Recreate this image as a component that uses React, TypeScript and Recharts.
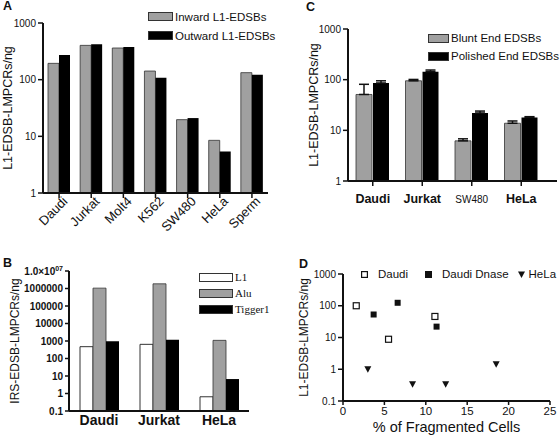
import React from 'react'
import {
  BarChart, Bar, XAxis, YAxis, Legend, ErrorBar, ScatterChart, Scatter
} from 'recharts'

const FONT = '"Liberation Sans", Arial, Helvetica, sans-serif'
const SERIF = '"Liberation Serif", "Times New Roman", serif'
const INK = '#111'
const GRAY = '#a0a0a0'

// Panel A: inward / outward L1-EDSBs per cell line
const cellLinesA = ['Daudi', 'Jurkat', 'Molt4', 'K562', 'SW480', 'HeLa', 'Sperm']
const inwardA = [194, 403, 362, 142, 19.7, 8.5, 133]
const outwardA = [272, 421, 377, 108, 21, 5.4, 122]
const ticksA = [1, 10, 100, 1000]

// Panel B: IRS-EDSBs
const cellLinesB = ['Daudi', 'Jurkat', 'HeLa']
const l1B = [474, 645, 0.65]
const aluB = [1050000, 1850000, 1090]
const tiggerB = [960, 1190, 6.7]
const ticksB = [0.1, 1, 10, 100, 1000, 10000, 100000, 1000000, 10000000]

// Panel C: blunt vs polished ends (upper error only)
const cellLinesC = ['Daudi', 'Jurkat', 'SW480', 'HeLa']
const bluntC = [51, 95, 6.2, 13.8]
const bluntErrC = [30, 6, 0.6, 1.5]
const polishedC = [86, 144, 22, 18]
const polishedErrC = [9, 11, 2, 0.6]
const ticksC = [1, 10, 100, 1000]

// Panel D: % fragmented cells vs EDSBs
const daudiX = [1.6, 5.5, 11.1]
const daudiY = [100, 8.8, 46]
const dnaseX = [3.7, 6.6, 11.3]
const dnaseY = [53, 124, 22]
const helaX = [3.0, 8.4, 12.4, 18.5]
const helaY = [1.0, 0.34, 0.34, 1.44]
const ticksDx = [0, 5, 10, 15, 20, 25]
const ticksDy = [0.1, 1, 10, 100, 1000]

const dataA = cellLinesA.map((name, i) => ({ name, inward: inwardA[i], outward: outwardA[i] }))
const dataB = cellLinesB.map((name, i) => ({ name, l1: l1B[i], alu: aluB[i], tigger: tiggerB[i] }))
const dataC = cellLinesC.map((name, i) => ({
  name,
  blunt: bluntC[i],
  bluntErr: [0, bluntErrC[i]],
  polished: polishedC[i],
  polishedErr: [0, polishedErrC[i]],
}))
const toPts = (xs: number[], ys: number[]) => xs.map((x, i) => ({ x, y: ys[i] }))
const daudiD = toPts(daudiX, daudiY)
const dnaseD = toPts(dnaseX, dnaseY)
const helaD = toPts(helaX, helaY)

const axisStroke = { stroke: INK, strokeWidth: 2 }
const tickStroke = { stroke: INK, strokeWidth: 1.5 }

// vertical + centered legend so it takes no room from the plot
const noReserve = { layout: 'vertical' as const, align: 'center' as const, verticalAlign: 'middle' as const }

function BoxLegend({ payload, order, boxW, boxH, font, size, gap }: any) {
  const items = [...(payload || [])].sort((a: any, b: any) => order.indexOf(a.value) - order.indexOf(b.value))
  return (
    <div style={{ fontFamily: font, fontSize: size, color: INK }}>
      {items.map((e: any) => (
        <div key={e.value} style={{ display: 'flex', alignItems: 'center', height: gap }}>
          <span style={{
            display: 'inline-block', width: boxW, height: boxH, background: e.color,
            border: '1px solid #333', marginRight: 2,
          }} />
          <span>{e.value}</span>
        </div>
      ))}
    </div>
  )
}

function AngledTick({ x, y, payload }: any) {
  return (
    <g transform={`translate(${x},${y})`}>
      <text x={5} y={8} transform="rotate(-45)" textAnchor="end" fontSize={13} fill={INK} fontFamily={FONT}>
        {payload.value}
      </text>
    </g>
  )
}

function PowerTick({ x, y, payload }: any) {
  const v = payload.value
  return (
    <text x={x} y={y} dy={3.5} textAnchor="end" fontSize={10} fontWeight="bold" fill={INK} fontFamily={FONT}>
      {v === 10000000 ? <>1.0×10<tspan dy={-4} fontSize={7}>07</tspan></> : String(v)}
    </text>
  )
}

function BoldTickB({ x, y, payload }: any) {
  return (
    <text x={x} y={y} dy={12} textAnchor="middle" fontSize={14} fontWeight="bold" fill={INK} fontFamily={FONT}>
      {payload.value}
    </text>
  )
}

function TickC({ x, y, payload }: any) {
  const plain = payload.value === 'SW480'
  return (
    <text x={x} y={y} dy={15} textAnchor="middle" fontSize={plain ? 10 : 12.5}
      fontWeight={plain ? 'normal' : 'bold'} fill={INK} fontFamily={FONT}>
      {payload.value}
    </text>
  )
}

const OpenSquare = (p: any) => (
  <rect x={p.cx - 3} y={p.cy - 3} width={6} height={6} fill="#fff" stroke={INK} strokeWidth={1.2} />
)
const FilledSquare = (p: any) => (
  <rect x={p.cx - 3} y={p.cy - 3} width={6} height={6} fill={INK} />
)
const DownTriangle = (p: any) => (
  <path d={`M${p.cx - 3.5},${p.cy - 3} L${p.cx + 3.5},${p.cy - 3} L${p.cx},${p.cy + 3.5} Z`} fill={INK} />
)

const markerIcons: Record<string, React.ReactNode> = {
  'Daudi': <svg width={7} height={7}><rect x={0.6} y={0.6} width={5.8} height={5.8} fill="#fff" stroke={INK} strokeWidth={1.2} /></svg>,
  'Daudi Dnase': <svg width={7} height={7}><rect x={0} y={0} width={7} height={7} fill={INK} /></svg>,
  'HeLa': <svg width={7} height={7}><path d="M0,0.5 L7,0.5 L3.5,7 Z" fill={INK} /></svg>,
}

function MarkerLegend({ payload }: any) {
  const gaps: Record<string, number> = { 'Daudi': 17, 'Daudi Dnase': 9, 'HeLa': 0 }
  const textGap: Record<string, number> = { 'Daudi': 10, 'Daudi Dnase': 10, 'HeLa': 4 }
  return (
    <div style={{ display: 'flex', alignItems: 'center', fontFamily: FONT, fontSize: 11.5, color: INK }}>
      {(payload || []).map((e: any) => (
        <div key={e.value} style={{ display: 'flex', alignItems: 'center', marginRight: gaps[e.value] }}>
          <span style={{ marginRight: textGap[e.value], display: 'flex' }}>{markerIcons[e.value]}</span>
          <span>{e.value}</span>
        </div>
      ))}
    </div>
  )
}

const letter = (t: string, left: number, top: number) => (
  <div style={{
    position: 'absolute', left, top, fontFamily: FONT, fontWeight: 'bold', fontSize: 12.5,
    lineHeight: 1, color: INK,
  }}>{t}</div>
)

const yLabel = (value: string, dx: number, size = 12) => ({
  value, angle: -90, position: 'center' as const, dx,
  style: { fontFamily: FONT, fontSize: size, fill: INK, textAnchor: 'middle' },
})

export default function App() {
  const tickFont = { fontSize: 10, fill: INK, fontFamily: FONT }
  return (
    <div style={{ position: 'absolute', left: 0, top: 0, width: 560, height: 436, background: '#fff', overflow: 'hidden' }}>
      {letter('A', 3, 0)}
      {letter('C', 306, 1)}
      {letter('B', 3, 257)}
      {letter('D', 299, 258)}

      {/* A */}
      <div style={{ position: 'absolute', left: 0, top: 0 }}>
        <BarChart width={280} height={250} data={dataA} margin={{ top: 23, right: 12, left: 0, bottom: 0 }}
          barGap={0} barSize={11}>
          <XAxis dataKey="name" height={57} axisLine={axisStroke} tickLine={tickStroke} tickSize={5}
            tick={<AngledTick />} interval={0} />
          <YAxis type="number" scale="log" domain={[1, 1000]} ticks={ticksA} allowDataOverflow interval={0}
            width={43} axisLine={axisStroke} tickLine={tickStroke} tickSize={5} tick={tickFont}
            label={yLabel('L1-EDSB-LMPCRs/ng', -13.5, 12.5)} />
          <Legend {...noReserve} wrapperStyle={{ left: 148, top: 7, width: 130 }}
            content={<BoxLegend order={['Inward L1-EDSBs', 'Outward L1-EDSBs']} boxW={23} boxH={7} font={FONT} size={11.5} gap={19} />} />
          <Bar dataKey="inward" name="Inward L1-EDSBs" fill={GRAY} stroke="#333" strokeWidth={0.8} isAnimationActive={false} />
          <Bar dataKey="outward" name="Outward L1-EDSBs" fill="#000" isAnimationActive={false} />
        </BarChart>
      </div>

      {/* C */}
      <div style={{ position: 'absolute', left: 280, top: 0 }}>
        <BarChart width={280} height={250} data={dataC} margin={{ top: 29, right: 3, left: 0, bottom: 0 }}
          barGap={1} barSize={16}>
          <XAxis dataKey="name" height={69} axisLine={axisStroke} tickLine={tickStroke} tickSize={5}
            padding={{ left: 0, right: 11 }} tick={<TickC />} interval={0} />
          <YAxis type="number" scale="log" domain={[1, 1000]} ticks={ticksC} allowDataOverflow interval={0}
            width={68} axisLine={axisStroke} tickLine={tickStroke} tickSize={5} tick={tickFont}
            label={yLabel('L1-EDSB-LMPCRs/ng', 0, 12.5)} />
          <Legend {...noReserve} wrapperStyle={{ left: 148, top: 29, width: 132 }}
            content={<BoxLegend order={['Blunt End EDSBs', 'Polished End EDSBs']} boxW={19} boxH={7} font={FONT} size={11.5} gap={18} />} />
          <Bar dataKey="blunt" name="Blunt End EDSBs" fill={GRAY} stroke="#333" strokeWidth={0.8} isAnimationActive={false}>
            <ErrorBar dataKey="bluntErr" width={5} stroke={INK} strokeWidth={1.5} />
          </Bar>
          <Bar dataKey="polished" name="Polished End EDSBs" fill="#000" isAnimationActive={false}>
            <ErrorBar dataKey="polishedErr" width={5} stroke={INK} strokeWidth={1.5} />
          </Bar>
        </BarChart>
      </div>

      {/* B */}
      <div style={{ position: 'absolute', left: 0, top: 255 }}>
        <BarChart width={280} height={181} data={dataB} margin={{ top: 16, right: 31, left: 0, bottom: 0 }}
          barGap={0} barSize={13}>
          <XAxis dataKey="name" height={25} axisLine={axisStroke} tickLine={false} tickSize={0} tickMargin={2}
            tick={<BoldTickB />} interval={0} />
          <YAxis type="number" scale="log" domain={[0.1, 10000000]} ticks={ticksB} allowDataOverflow interval={0}
            width={69} axisLine={axisStroke} tickLine={tickStroke} tickSize={4} tick={<PowerTick />}
            label={yLabel('IRS-EDSB-LMPCRs/ng', -19.5, 12)} />
          <Legend {...noReserve} wrapperStyle={{ left: 199, top: 14, width: 80 }}
            content={<BoxLegend order={['L1', 'Alu', 'Tigger1']} boxW={32} boxH={7} font={SERIF} size={11} gap={16} />} />
          <Bar dataKey="l1" name="L1" fill="#fff" stroke="#333" strokeWidth={1} isAnimationActive={false} />
          <Bar dataKey="alu" name="Alu" fill={GRAY} stroke="#333" strokeWidth={0.8} isAnimationActive={false} />
          <Bar dataKey="tigger" name="Tigger1" fill="#000" isAnimationActive={false} />
        </BarChart>
      </div>

      {/* D */}
      <div style={{ position: 'absolute', left: 280, top: 255 }}>
        <ScatterChart width={280} height={181} margin={{ top: 19, right: 10, left: 0, bottom: 0 }}>
          <XAxis type="number" dataKey="x" domain={[0, 25]} ticks={ticksDx} interval={0} height={35}
            axisLine={axisStroke} tickLine={tickStroke} tickSize={4}
            tick={{ fontSize: 11.5, fill: INK, fontFamily: FONT }}
            label={{ value: '% of Fragmented Cells', position: 'insideBottom', offset: 4,
              style: { fontFamily: FONT, fontSize: 14.5, fill: INK } }} />
          <YAxis type="number" dataKey="y" scale="log" domain={[0.1, 1000]} ticks={ticksDy} allowDataOverflow
            interval={0} width={63} axisLine={axisStroke} tickLine={tickStroke} tickSize={5} tick={tickFont}
            label={yLabel('L1-EDSB-LMPCRs/ng', -7.5, 12)} />
          <Legend {...noReserve} wrapperStyle={{ left: 81, top: 13, width: 199 }} content={<MarkerLegend />} />
          <Scatter name="Daudi" data={daudiD} fill="#fff" shape={OpenSquare} isAnimationActive={false} />
          <Scatter name="Daudi Dnase" data={dnaseD} fill={INK} shape={FilledSquare} isAnimationActive={false} />
          <Scatter name="HeLa" data={helaD} fill={INK} shape={DownTriangle} isAnimationActive={false} />
        </ScatterChart>
      </div>
    </div>
  )
}
